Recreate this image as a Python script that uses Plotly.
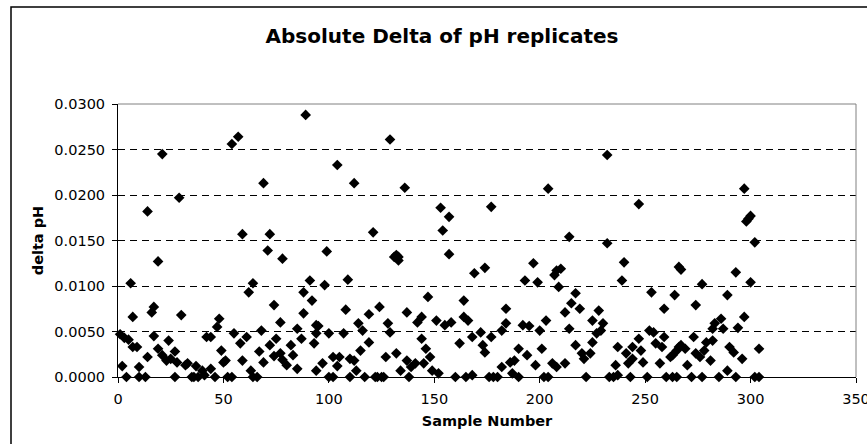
import plotly.graph_objects as go

# ---- data ----
sample_number = [
    1, 2, 3, 4, 5, 6, 7, 7, 9, 10, 10, 13, 14, 14, 16, 17, 17, 19, 19, 21,
    21, 23, 24, 25, 27, 27, 28, 29, 30, 32, 33, 35, 36, 37, 38, 40, 41, 42, 44, 44,
    46, 47, 48, 49, 50, 51, 52, 54, 54, 55, 57, 58, 59, 59, 61, 62, 63, 64, 64, 66,
    67, 68, 69, 69, 71, 72, 72, 74, 74, 75, 77, 77, 78, 78, 80, 82, 83, 85, 85, 87,
    88, 88, 89, 91, 92, 93, 94, 94, 94, 95, 97, 98, 99, 100, 100, 102, 102, 104, 104, 105,
    107, 108, 109, 110, 110, 112, 112, 113, 114, 115, 116, 117, 119, 119, 121, 122, 123, 124, 125, 126,
    127, 128, 129, 129, 131, 132, 132, 133, 133, 134, 136, 137, 137, 138, 139, 141, 142, 144, 144, 145,
    146, 147, 148, 149, 151, 152, 153, 154, 155, 157, 157, 158, 160, 162, 164, 164, 165, 166, 168, 168,
    169, 172, 173, 174, 174, 176, 177, 177, 178, 180, 182, 182, 184, 184, 186, 187, 188, 190, 190, 192,
    193, 194, 195, 197, 198, 199, 200, 201, 202, 203, 204, 204, 206, 207, 208, 210, 209, 208, 212, 212,
    214, 214, 215, 217, 217, 219, 220, 221, 222, 224, 225, 225, 227, 228, 229, 230, 232, 232, 233, 235,
    236, 237, 237, 239, 240, 241, 242, 243, 244, 244, 247, 247, 248, 249, 251, 252, 253, 254, 255, 257,
    258, 259, 259, 260, 262, 263, 264, 265, 266, 266, 263, 265, 267, 269, 267, 270, 272, 273, 274, 274,
    276, 277, 277, 278, 279, 281, 282, 282, 283, 285, 286, 287, 289, 289, 290, 292, 293, 293, 294, 296,
    297, 297, 298, 299, 300, 300, 302, 302, 304, 304,
]
delta_ph = [
    0.0047, 0.0012, 0.0043, 0.0000, 0.0041, 0.0103, 0.0033, 0.0066, 0.0033, 0.0000,
    0.0011, 0.0000, 0.0022, 0.0182, 0.0071, 0.0045, 0.0077, 0.0127, 0.0031, 0.0245,
    0.0024, 0.0018, 0.0040, 0.0020, 0.0000, 0.0028, 0.0016, 0.0197, 0.0068, 0.0013,
    0.0015, 0.0000, 0.0000, 0.0012, 0.0000, 0.0007, 0.0002, 0.0044, 0.0044, 0.0009,
    0.0000, 0.0055, 0.0064, 0.0029, 0.0016, 0.0018, 0.0000, 0.0000, 0.0256, 0.0048,
    0.0264, 0.0037, 0.0018, 0.0157, 0.0044, 0.0093, 0.0007, 0.0000, 0.0103, 0.0000,
    0.0028, 0.0051, 0.0213, 0.0016, 0.0139, 0.0157, 0.0035, 0.0023, 0.0079, 0.0042,
    0.0060, 0.0026, 0.0019, 0.0130, 0.0013, 0.0035, 0.0024, 0.0009, 0.0053, 0.0042,
    0.0070, 0.0093, 0.0288, 0.0106, 0.0084, 0.0037, 0.0048, 0.0007, 0.0057, 0.0056,
    0.0015, 0.0101, 0.0138, 0.0048, 0.0000, 0.0000, 0.0022, 0.0012, 0.0233, 0.0022,
    0.0048, 0.0074, 0.0107, 0.0020, 0.0000, 0.0018, 0.0213, 0.0007, 0.0059, 0.0029,
    0.0051, 0.0000, 0.0069, 0.0038, 0.0159, 0.0000, 0.0000, 0.0077, 0.0000, 0.0000,
    0.0022, 0.0059, 0.0049, 0.0261, 0.0132, 0.0026, 0.0134, 0.0128, 0.0132, 0.0007,
    0.0208, 0.0071, 0.0018, 0.0000, 0.0011, 0.0015, 0.0060, 0.0066, 0.0042, 0.0015,
    0.0031, 0.0088, 0.0022, 0.0007, 0.0062, 0.0004, 0.0186, 0.0161, 0.0057, 0.0135,
    0.0176, 0.0060, 0.0000, 0.0037, 0.0084, 0.0066, 0.0000, 0.0062, 0.0002, 0.0044,
    0.0114, 0.0049, 0.0035, 0.0120, 0.0027, 0.0000, 0.0044, 0.0187, 0.0000, 0.0000,
    0.0011, 0.0051, 0.0075, 0.0059, 0.0016, 0.0004, 0.0018, 0.0000, 0.0031, 0.0057,
    0.0106, 0.0024, 0.0056, 0.0125, 0.0013, 0.0104, 0.0051, 0.0031, 0.0000, 0.0062,
    0.0207, 0.0000, 0.0015, 0.0112, 0.0117, 0.0119, 0.0099, 0.0011, 0.0015, 0.0071,
    0.0154, 0.0053, 0.0081, 0.0092, 0.0035, 0.0075, 0.0026, 0.0020, 0.0000, 0.0026,
    0.0038, 0.0062, 0.0048, 0.0073, 0.0051, 0.0059, 0.0147, 0.0244, 0.0000, 0.0000,
    0.0013, 0.0033, 0.0002, 0.0106, 0.0126, 0.0026, 0.0015, 0.0000, 0.0020, 0.0033,
    0.0190, 0.0042, 0.0029, 0.0016, 0.0000, 0.0051, 0.0093, 0.0049, 0.0037, 0.0015,
    0.0033, 0.0075, 0.0044, 0.0000, 0.0022, 0.0000, 0.0090, 0.0000, 0.0121, 0.0033,
    0.0024, 0.0029, 0.0035, 0.0031, 0.0118, 0.0013, 0.0000, 0.0044, 0.0079, 0.0026,
    0.0022, 0.0000, 0.0102, 0.0029, 0.0038, 0.0018, 0.0040, 0.0053, 0.0059, 0.0000,
    0.0064, 0.0053, 0.0007, 0.0090, 0.0033, 0.0027, 0.0115, 0.0000, 0.0054, 0.0020,
    0.0207, 0.0066, 0.0171, 0.0174, 0.0177, 0.0104, 0.0148, 0.0000, 0.0031, 0.0000,
]

x_ticks = [0, 50, 100, 150, 200, 250, 300, 350]
y_ticks = [0.0, 0.005, 0.010, 0.015, 0.020, 0.025, 0.030]

title_text = "Absolute Delta of pH replicates"
x_title = "Sample Number"
y_title = "delta pH"

FONT = "DejaVu Sans"

fig = go.Figure()
fig.add_trace(go.Scatter(
    x=sample_number, y=delta_ph, mode="markers",
    marker=dict(symbol="diamond", size=8.2, color="black", line=dict(width=0)),
    cliponaxis=False, showlegend=False, hoverinfo="skip",
))

W, H = 867, 444
L, R, T, B = 118, 11, 104, 67
pw, ph = W - L - R, H - T - B

fig.update_layout(
    width=W, height=H,
    margin=dict(l=L, r=R, t=T, b=B, autoexpand=False),
    paper_bgcolor="white", plot_bgcolor="white",
    font=dict(family=FONT, color="black", size=14),
    title=dict(text="<b>" + title_text + "</b>", font=dict(family=FONT, size=20, color="black"),
               x=442 / W, xref="container", xanchor="center",
               y=1 - 36 / H, yref="container", yanchor="middle"),
    xaxis=dict(range=[x_ticks[0], x_ticks[-1]], tickvals=x_ticks,
               showline=True, linecolor="black", linewidth=1,
               ticks="outside", ticklen=5, tickcolor="black", tickwidth=1,
               tickfont=dict(family=FONT, size=14.5, color="black"),
               ticklabelstandoff=4, ticklabeloverflow="allow",
               showgrid=False, zeroline=False, automargin=False,
               title=dict(text="<b>" + x_title + "</b>", standoff=9,
                          font=dict(family=FONT, size=14.5, color="black"))),
    yaxis=dict(range=[y_ticks[0], y_ticks[-1]], tickvals=y_ticks, tickformat=".4f",
               showline=True, linecolor="black", linewidth=1,
               ticks="outside", ticklen=5, tickcolor="black", tickwidth=1,
               tickfont=dict(family=FONT, size=14.5, color="black"),
               ticklabelstandoff=4, ticklabeloverflow="allow",
               showgrid=True, gridcolor="black", gridwidth=1, griddash="7px,5px",
               zeroline=False, automargin=False,
               title=dict(text="<b>" + y_title + "</b>", standoff=7,
                          font=dict(family=FONT, size=14.5, color="black"))),
    shapes=[
        # plot area border (top and right, grey)
        dict(type="line", xref="paper", yref="paper", x0=0, x1=1, y0=1, y1=1,
             line=dict(color="#808080", width=1), layer="above"),
        dict(type="line", xref="paper", yref="paper", x0=1, x1=1, y0=0, y1=1,
             line=dict(color="#808080", width=1), layer="above"),
        # chart area frame
        dict(type="rect", xref="paper", yref="paper",
             x0=(11 - L) / pw, x1=(875 - L) / pw,
             y0=-(B + 10) / ph, y1=1 + (T - 7) / ph,
             line=dict(color="black", width=1.5), fillcolor="rgba(0,0,0,0)", layer="above"),
    ],
)

# remove the browser's default 8px page margin so the figure sits at the window origin
fig.write_html(
    "out.html",
    config={"displayModeBar": False, "staticPlot": True},
    post_script="document.body.style.margin='0';document.documentElement.style.overflow='hidden';document.body.style.overflow='hidden';",
)
